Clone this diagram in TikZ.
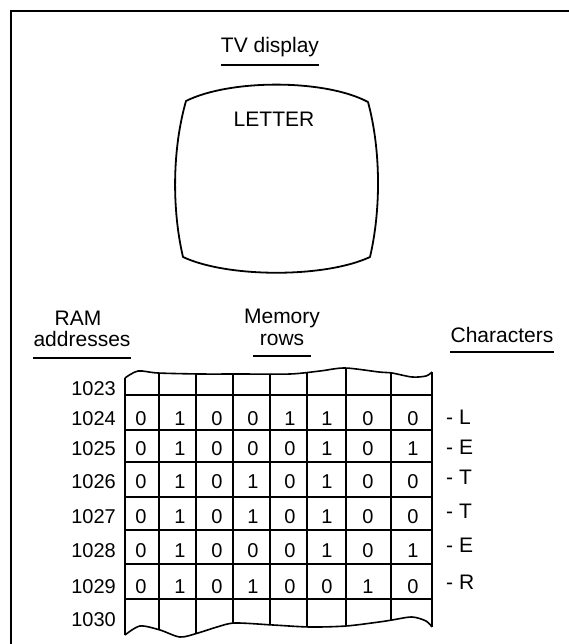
\documentclass[tikz,border=0pt]{standalone}
\usepackage{fontspec}
\setmainfont{Liberation Sans}
\begin{document}
\begin{tikzpicture}[x=1pt, y=-1pt,
  heading/.style={inner sep=0pt, text height=15pt, text depth=0pt,
                  font=\fontsize{21}{25}\selectfont},
  bit/.style={inner sep=0pt, text height=14.3pt, text depth=0pt,
              font=\fontsize{20}{24}\selectfont},
  uline/.style={line width=1.7pt},
  gridline/.style={line width=1.6pt}]

\useasboundingbox (0,0) rectangle (569,644);

% frame
\draw[line width=2pt] (11,644) -- (11,11) -- (569,11);

% TV
\node[heading] (tvtitle) at (270,45) {TV display};
\draw[uline] ([yshift=-12pt]tvtitle.south west) -- ([yshift=-12pt]tvtitle.south east);

\draw[line width=1.8pt, line join=round]
  (186,101) .. controls (230,79) and (325,79) .. (368,102)
            .. controls (381,150) and (381,210) .. (370,257)
            .. controls (325,278) and (228,278) .. (183,257)
            .. controls (172,210) and (172,150) .. cycle;
\node[heading] (screen) at (274,119) {LETTER};

% column headings
\node[heading] (ram) at (78,318) {RAM};
\node[heading] (addr) at (82,339) {addresses};
\draw[uline] ([yshift=-11.5pt]addr.south west) -- ([yshift=-11.5pt]addr.south east);

\node[heading] (mem) at (282,316) {Memory};
\node[heading] (rows) at (282,338) {rows};
\draw[uline] ([xshift=-7pt, yshift=-10.5pt]rows.south west) -- ([xshift=7pt, yshift=-10.5pt]rows.south east);

\node[heading] (chars) at (502,335) {Characters};
\draw[uline] ([yshift=-9.5pt]chars.south west) -- ([yshift=-9.5pt]chars.south east);

% memory grid
\begin{scope}
  \clip plot[smooth] coordinates {(125,378) (138,371) (158,373) (200,374) (240,374)
        (290,374) (320,371) (345,368) (379,372) (392,373) (412,377) (426,376) (432,372)}
     -- plot[smooth] coordinates {(432,627) (426,621) (412,617) (392,620) (379,622)
        (346,626) (310,627) (273,625) (235,623) (217,627) (198,633) (180,637)
        (160,630) (140,626) (125,635)} -- cycle;
  \foreach \x in {159,196,233,270,307,346,391}
    \draw[gridline] (\x,360) -- (\x,644);
  \foreach \y in {395,430,462,497,530,564,599}
    \draw[gridline] (110,\y) -- (440,\y);
\end{scope}
\draw[gridline] plot[smooth] coordinates {(125,378) (138,371) (158,373) (200,374) (240,374)
        (290,374) (320,371) (345,368) (379,372) (392,373) (412,377) (426,376) (432,372)};
\draw[gridline] plot[smooth] coordinates {(125,635) (140,626) (160,630) (180,637)
        (198,633) (217,627) (235,623) (273,625) (310,627) (346,626) (379,622)
        (392,620) (412,617) (426,621) (432,627)};
\draw[gridline] (125,378) -- (125,635);
\draw[gridline] (432,372) -- (432,627);

% addresses
\foreach \adr/\yy in {1023/388, 1024/418, 1025/448, 1026/481,
                      1027/516, 1028/550, 1029/586, 1030/619}
  \node[bit, anchor=east] (a\adr) at (116,\yy) {\adr};

% bits
\foreach \yy/\bA/\bB/\bC/\bD/\bE/\bF/\bG/\bH [count=\r] in
   {418/0/1/0/0/1/1/0/0, 448/0/1/0/0/0/1/0/1, 481/0/1/0/1/0/1/0/0,
    516/0/1/0/1/0/1/0/0, 550/0/1/0/0/0/1/0/1, 586/0/1/0/1/0/0/1/0}
  \foreach \x/\v [count=\k] in {141/\bA, 180/\bB, 217/\bC, 253/\bD,
                                290/\bE, 327/\bF, 368/\bG, 413/\bH}
    \node[bit] (bit-\r-\k) at (\x,\yy) {\v};

% characters
\foreach \ch/\yy [count=\r] in {L/417, E/447, T/477, T/511, E/545, R/582}
  \node[heading, anchor=west] (ch-\r) at (446,\yy) {- \ch};

\end{tikzpicture}
\end{document}
